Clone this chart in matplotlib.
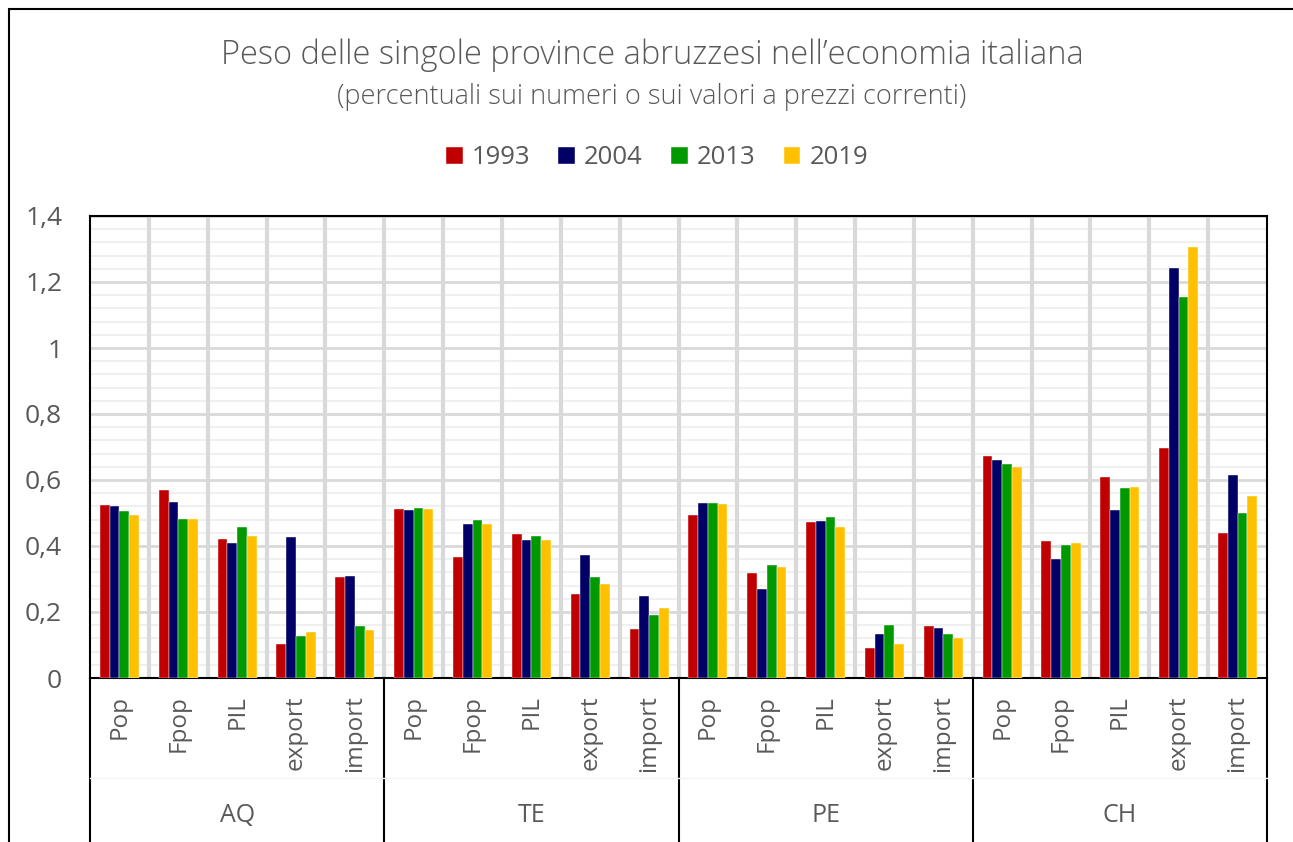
import numpy as np
import matplotlib
matplotlib.use("Agg")
import matplotlib.pyplot as plt
from matplotlib.patches import Rectangle

plt.rcParams['font.family'] = ['Open Sans', 'DejaVu Sans']

# dati: peso percentuale delle province abruzzesi
province = ["AQ", "TE", "PE", "CH"]
voci = ["Pop", "Fpop", "PIL", "export", "import"]
anni = ["1993", "2004", "2013", "2019"]

v1993 = [0.524, 0.569, 0.421, 0.104, 0.306,
         0.512, 0.368, 0.436, 0.254, 0.148,
         0.494, 0.318, 0.472, 0.091, 0.158,
         0.673, 0.415, 0.610, 0.697, 0.440]
v2004 = [0.521, 0.532, 0.408, 0.426, 0.308,
         0.508, 0.467, 0.418, 0.374, 0.250,
         0.529, 0.271, 0.475, 0.133, 0.153,
         0.662, 0.361, 0.510, 1.241, 0.616]
v2013 = [0.505, 0.483, 0.459, 0.126, 0.159,
         0.515, 0.479, 0.430, 0.305, 0.191,
         0.529, 0.342, 0.487, 0.160, 0.133,
         0.650, 0.403, 0.576, 1.154, 0.501]
v2019 = [0.495, 0.483, 0.431, 0.139, 0.145,
         0.511, 0.467, 0.419, 0.286, 0.213,
         0.527, 0.336, 0.457, 0.102, 0.121,
         0.639, 0.410, 0.579, 1.306, 0.551]

serie = [v1993, v2004, v2013, v2019]
colori = ["#C00000", "#000066", "#009900", "#FFC000"]
grigio = "#595959"

W, H = 1293, 842
fig = plt.figure(figsize=(W / 100, H / 100), dpi=100)

# cornice esterna
fig.patches.append(Rectangle((9 / W, -0.1), 1.2, (H - 9) / H + 0.1, transform=fig.transFigure,
                             fill=False, edgecolor="black", linewidth=1.5))

ax = fig.add_axes([90 / W, (H - 678) / H, (1267 - 90) / W, (678 - 216) / H])

n = len(v1993)
x = np.arange(n) + 0.5
w = 0.166
for k, (vals, col, lab) in enumerate(zip(serie, colori, anni)):
    ax.bar(x + (k - 1.5) * w, vals, width=w, color=col, label=lab, zorder=3,
           edgecolor="white", linewidth=0.3)

ax.set_xlim(0, n)
ax.set_ylim(0, 1.4)

# griglia
for yy in np.arange(0, 1.4001, 0.04):
    if abs(yy / 0.2 - round(yy / 0.2)) < 1e-6:
        ax.axhline(yy, color="#d9d9d9", linewidth=2, zorder=1)
    else:
        ax.axhline(yy, color="#f0f0f0", linewidth=1.5, zorder=1)
for xx in range(1, n):
    ax.axvline(xx, color="#d9d9d9", linewidth=3, zorder=1)

for s in ax.spines.values():
    s.set_color("black")
    s.set_linewidth(1.5)

yt = [0, 0.2, 0.4, 0.6, 0.8, 1.0, 1.2, 1.4]
ax.set_yticks(yt)
ax.set_yticklabels(["0", "0,2", "0,4", "0,6", "0,8", "1", "1,2", "1,4"])
ax.tick_params(axis="y", length=0, pad=20, labelsize=19, labelcolor=grigio)
ax.set_xticks([])

# etichette asse x a due livelli
trans = ax.get_xaxis_transform()
ph = (678 - 216)
for i in range(n):
    ax.text(i + 0.5, -17 / ph, voci[i % 5], rotation=90, ha="center", va="top",
            fontsize=17.5, color=grigio, transform=trans)
for g, p in enumerate(province):
    ax.text(g * 5 + 2.5, -(815 - 678) / ph, p, ha="center", va="center",
            fontsize=18, color=grigio, transform=trans)
for b in range(0, n + 1, 5):
    ax.plot([b, b], [0, -(842 - 678) / ph], color="black", linewidth=1.5,
            transform=trans, clip_on=False)
ax.plot([0, n], [-(778 - 678) / ph] * 2, color="#f2f2f2", linewidth=1,
        transform=trans, clip_on=False)

fig.text(652 / W, 1 - 55 / H, "Peso delle singole province abruzzesi nell\u2019economia italiana",
         ha="center", va="center", fontsize=23.5, color=grigio, fontweight="light")
fig.text(652 / W, 1 - 97 / H, "(percentuali sui numeri o sui valori a prezzi correnti)",
         ha="center", va="center", fontsize=19.5, color=grigio, fontweight="light")

fig.legend(loc="center", bbox_to_anchor=(657 / W, 1 - 158 / H), ncol=4, frameon=False,
           fontsize=18.5, labelcolor=grigio, handlelength=0.65, handleheight=0.65,
           handletextpad=0.35, columnspacing=1.1)

fig.savefig("out.png", dpi=100)
